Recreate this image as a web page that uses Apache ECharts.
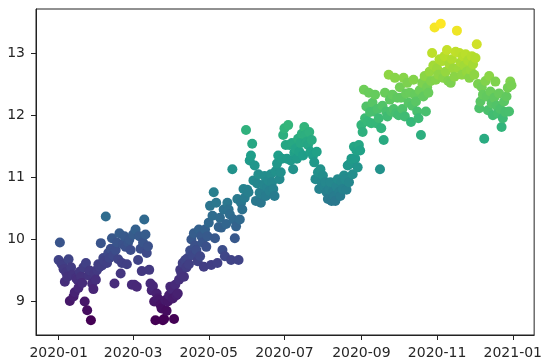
<!DOCTYPE html>
<html><head><meta charset="utf-8">
<script src="https://cdn.jsdelivr.net/npm/echarts@6/dist/echarts.min.js"></script>
<style>html,body{margin:0;padding:0;background:#fff}#c{width:545px;height:363px}</style>
</head><body><div id="c"></div>
<script>
// first date of the daily series
const startDate = [2020, 0, 1];
// daily values, Jan..Dec 2020
const janValues = [9.67,9.95,9.62,9.59,9.52,9.32,9.47,9.40,9.68,9.01,9.55,9.43,9.08,9.15,9.38,9.35,9.22,9.48,9.40,9.30,9.55,9.00,9.62,8.86,9.42,9.50,8.70,9.29,9.20,9.45,9.35];
const febValues = [9.51,9.60,9.56,9.94,9.58,9.70,9.65,10.37,9.62,9.78,9.70,9.85,10.02,9.74,9.29,9.83,9.95,9.68,10.10,9.45,9.62,9.92,10.05,9.88,9.60,9.95,10.00,9.83,9.27];
const marValues = [10.08,9.27,10.16,9.24,9.67,10.05,9.85,9.49,9.95,10.32,10.08,9.78,9.89,9.51,9.29,9.18,9.25,9.00,8.70,9.13,9.05,9.02,8.95,8.89,8.70,8.72,9.02,8.85,9.00,9.10,9.24];
const aprValues = [9.20,9.05,8.72,9.27,9.10,9.13,9.35,9.51,9.45,9.62,9.40,9.67,9.55,9.70,9.60,9.82,10.00,9.75,10.10,9.90,9.83,9.65,10.16,9.73,10.05,9.95,9.56,10.16,9.88,10.05];
const mayValues = [10.27,10.54,9.59,10.38,10.76,10.02,10.59,9.62,10.20,10.35,10.19,9.83,10.48,9.73,10.25,10.59,10.48,10.40,9.67,11.13,10.32,10.02,10.21,10.65,9.67,10.32,10.59,10.48,10.81,10.67,11.76];
const junValues = [10.80,10.76,11.27,11.35,11.54,10.95,11.19,10.62,10.90,11.05,10.75,10.59,10.73,10.88,11.02,10.70,10.84,10.95,10.78,11.05,10.92,10.81,10.70,11.10,11.22,11.35,10.97,11.08,11.30,11.68];
const julValues = [11.79,11.52,11.30,11.84,11.52,11.27,11.55,11.13,11.40,11.46,11.30,11.62,11.41,11.55,11.70,11.35,11.81,11.68,11.57,11.52,11.73,11.41,11.60,11.35,11.24,10.97,11.41,11.08,10.81,11.13,10.92];
const augValues = [11.03,10.86,10.92,10.76,10.65,10.81,10.92,10.62,10.76,10.70,10.62,10.85,10.97,10.76,10.70,10.92,10.81,11.03,10.97,10.80,11.19,10.92,11.22,11.30,11.05,11.49,11.30,11.43,11.16,11.52,11.43];
const sepValues = [11.84,11.73,12.41,11.95,12.14,11.90,12.36,12.05,11.87,12.20,12.06,12.33,11.87,12.10,11.95,11.13,11.79,12.15,11.60,12.36,12.06,11.98,12.65,12.25,12.06,12.33,12.10,12.60,12.03,12.28];
const octValues = [12.00,12.45,12.28,12.10,12.60,11.98,12.35,12.52,12.20,12.36,11.89,12.15,12.57,12.33,12.22,12.06,11.95,12.40,11.68,12.52,12.30,12.63,12.06,12.45,12.36,12.70,12.55,13.00,12.80,13.41,12.57];
const novValues = [12.75,12.65,12.90,13.47,12.87,12.60,12.95,12.70,13.05,12.55,12.82,12.52,12.90,12.75,12.62,13.02,13.36,12.76,13.00,12.85,12.65,12.95,12.80,12.98,12.70,12.88,12.60,12.73,12.95,12.82];
const decValues = [12.65,12.92,13.14,12.50,12.11,12.22,12.45,12.33,11.62,12.55,12.30,12.08,12.63,12.38,12.19,12.00,12.28,12.54,12.15,12.03,12.35,12.10,11.81,11.95,12.22,12.05,12.30,12.44,12.06,12.54,12.48];

const xTickLabels = ['2020-01','2020-03','2020-05','2020-07','2020-09','2020-11','2021-01'];
const yTickValues = [9, 10, 11, 12, 13];
const viridis = ['#440154','#482878','#3e4989','#31688e','#26828e','#1f9e89','#35b779','#6ece58','#b5de2b','#fde725'];

const DAY = 86400000;
const t0 = Date.UTC(startDate[0], startDate[1], startDate[2]);
const allValues = [].concat(janValues, febValues, marValues, aprValues, mayValues, junValues,
  julValues, augValues, sepValues, octValues, novValues, decValues);
// x = day offset from the start date
const points = allValues.map((v, i) => [i, v]);
const xTickDays = xTickLabels.map(s => (Date.UTC(+s.slice(0, 4), +s.slice(5, 7) - 1, 1) - t0) / DAY);
const labelOf = {};
xTickDays.forEach((d, i) => { labelOf[d] = xTickLabels[i]; });
const vMin = Math.min.apply(null, allValues), vMax = Math.max.apply(null, allValues);
const span = points.length - 1;
const vSpan = vMax - vMin;

const axisColor = '#222';
const font = 'DejaVu Sans';
const chart = echarts.init(document.getElementById('c'), null, {renderer: 'canvas'});
chart.setOption({
  animation: false,
  backgroundColor: '#fff',
  grid: {left: 36, right: 8, top: 9, bottom: 28, containLabel: false,
         show: true, borderColor: axisColor, borderWidth: 1, backgroundColor: 'transparent'},
  xAxis: {
    type: 'value',
    min: -0.05 * span,
    max: span * 1.05,
    splitLine: {show: false},
    axisLine: {show: true, onZero: false, lineStyle: {color: axisColor, width: 1}},
    axisTick: {show: true, length: 5, lineStyle: {color: axisColor}, customValues: xTickDays},
    axisLabel: {customValues: xTickDays, formatter: v => labelOf[v] || '', fontFamily: font,
                fontSize: 14, color: '#262626', margin: 11}
  },
  yAxis: {
    type: 'value',
    min: vMin - 0.05 * vSpan,
    max: vMax + 0.05 * vSpan,
    splitLine: {show: false},
    axisLine: {show: true, onZero: false, lineStyle: {color: axisColor, width: 1}},
    axisTick: {show: true, length: 5, lineStyle: {color: axisColor}, customValues: yTickValues},
    axisLabel: {customValues: yTickValues, fontFamily: font, fontSize: 14, color: '#262626', margin: 11}
  },
  visualMap: {show: false, type: 'continuous', dimension: 1, min: vMin, max: vMax,
              inRange: {color: viridis}},
  series: [{
    type: 'scatter',
    data: points,
    symbolSize: 10,
    itemStyle: {opacity: 1}
  }]
});
</script></body></html>
